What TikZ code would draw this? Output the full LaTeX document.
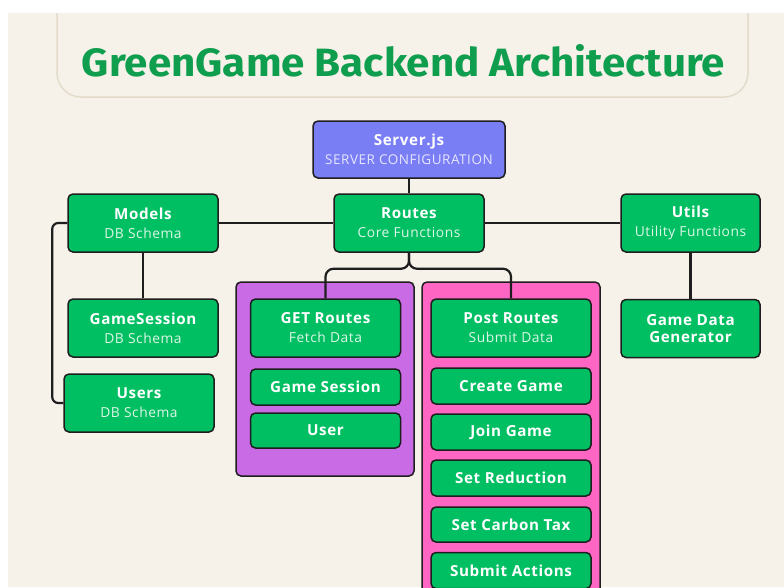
\documentclass[tikz,border=0pt]{standalone}
\usepackage{fontspec}
\setmainfont{Open Sans}
\newfontfamily\headfont{Fira Sans}
\newfontfamily\boxfont[LetterSpace=4]{Open Sans}

\definecolor{cream}{HTML}{F6F1E9}
\definecolor{bannerline}{HTML}{E4DCCB}
\definecolor{titlegreen}{HTML}{0F9D4E}
\definecolor{nodegreen}{HTML}{00BF63}
\definecolor{serverblue}{HTML}{7A7EF5}
\definecolor{getpurple}{HTML}{C96BE5}
\definecolor{postpink}{HTML}{FF66C4}
\definecolor{edgedark}{HTML}{1E1E1E}
\definecolor{mint}{HTML}{DDF6E6}
\definecolor{lavender}{HTML}{E6E6FF}

\newcommand{\mainlabel}[1]{{\bfseries #1}}
\newcommand{\sublabel}[1]{{\fontsize{13.8}{19}\selectfont\color{mint}#1}}

\tikzset{
  x=1pt, y=1pt,
  box/.style={draw=edgedark, line width=1.5pt, rounded corners=5pt,
    fill=nodegreen, text=white, align=center, inner sep=0pt,
    font=\boxfont\fontsize{15.2}{19}\selectfont},
  modbox/.style={box, minimum width=150pt, minimum height=58pt},
  itembox/.style={box, minimum width=150pt, minimum height=36pt},
  postbox/.style={box, minimum width=160pt, minimum height=36pt},
  group/.style={draw=edgedark, line width=1.5pt, rounded corners=5pt, inner sep=0pt},
  link/.style={draw=edgedark, line width=2.2pt},
}

\begin{document}
\begin{tikzpicture}
\useasboundingbox (0,0) rectangle (784,-587);
\fill[white] (0,0) rectangle (784,-587);

% page and banner
\begin{scope}
  \clip (8,-13) rectangle (784,-587);
  \fill[cream] (8,-13) rectangle (784,-587);
  \draw[bannerline, line width=1.5pt, fill=cream, rounded corners=24pt]
    (57,20) rectangle (748,-97);
\end{scope}
\node[anchor=base, inner sep=0pt, text=titlegreen] (title) at (403.5,-76)
  {\resizebox{643pt}{32pt}{\headfont\bfseries GreenGame Backend Architecture}};

% route groups
\node[group, fill=getpurple, minimum width=178pt, minimum height=194pt] (getgroup) at (325,-379) {};
\node[group, fill=postpink, minimum width=178pt, minimum height=330pt] (postgroup) at (511,-447) {};

% top level
\node[box, fill=serverblue, minimum width=192pt, minimum height=57pt] (server) at (409,-149.5)
  {\mainlabel{Server.js}\\{\fontsize{13.5}{19}\selectfont\color{lavender}SERVER CONFIGURATION}};
\node[modbox] (routes) at (409,-223) {\mainlabel{Routes}\\\sublabel{Core Functions}};
\node[modbox] (models) at (143,-223) {\mainlabel{Models}\\\sublabel{DB Schema}};
\node[modbox, minimum width=139pt] (utils) at (690.5,-223) {\mainlabel{Utils}\\\sublabel{Utility Functions}};

% models
\node[modbox] (gamesession) at (143,-328) {\mainlabel{GameSession}\\\sublabel{DB Schema}};
\node[modbox] (users) at (139,-403) {\mainlabel{Users}\\\sublabel{DB Schema}};

% utils
\node[modbox, minimum width=139pt, font=\boxfont\bfseries\fontsize{15.2}{17}\selectfont] (generator) at (690.5,-328.5)
  {Game Data\\Generator};

% GET routes
\node[modbox] (getroutes) at (325.5,-328) {\mainlabel{GET Routes}\\\sublabel{Fetch Data}};
\node[itembox] (getsession) at (325.5,-387) {\mainlabel{Game Session}};
\node[itembox, minimum height=35pt] (getuser) at (325.5,-430.5) {\mainlabel{User}};

% POST routes
\node[modbox, minimum width=160pt] (postroutes) at (511,-328) {\mainlabel{Post Routes}\\\sublabel{Submit Data}};
\node[postbox] (create) at (511,-386) {\mainlabel{Create Game}};
\node[postbox] (join) at (511,-432) {\mainlabel{Join Game}};
\node[postbox] (reduction) at (511,-478) {\mainlabel{Set Reduction}};
\node[postbox, minimum height=35pt] (carbontax) at (511,-524.5) {\mainlabel{Set Carbon Tax}};
\node[postbox] (submit) at (511,-570.5) {\mainlabel{Submit Actions}};

% connectors
\draw[link] (server) -- (routes);
\draw[link] (routes) -- (models);
\draw[link] (routes) -- (utils);
\draw[link] (models) -- (gamesession);
\draw[link, rounded corners=6pt] (models.west) -- ++(-15,0) |- (users.west);
\draw[link] (utils) -- (generator);
\draw[link, rounded corners=8pt] (routes.south) -- ++(0,-16) -| (getroutes.north);
\draw[link, rounded corners=8pt] (routes.south) -- ++(0,-16) -| (postroutes.north);
\end{tikzpicture}
\end{document}
